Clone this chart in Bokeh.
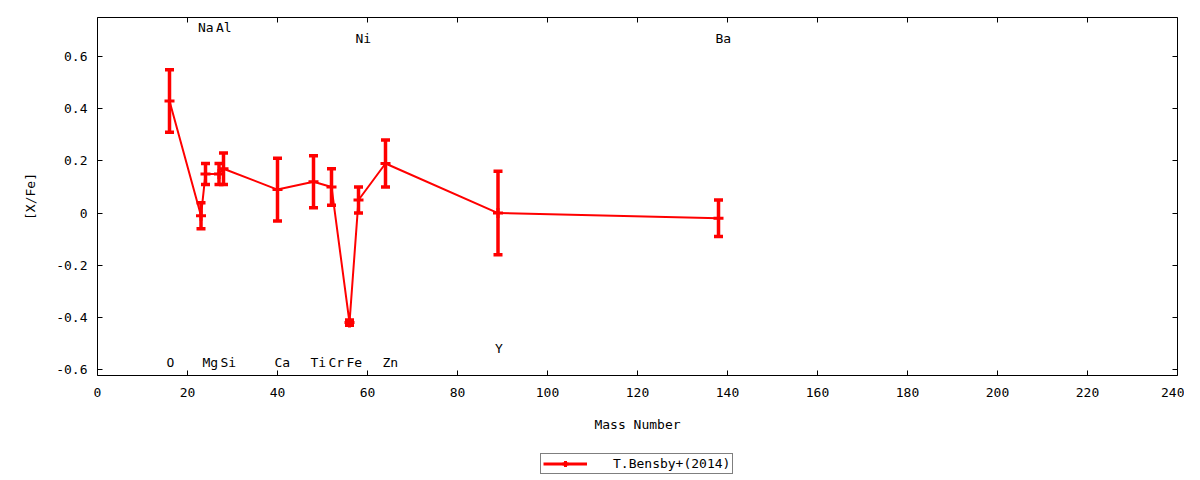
from bokeh.plotting import figure
from bokeh.layouts import column
from bokeh.models import (ColumnDataSource, Whisker, TeeHead, LinearAxis, FixedTicker,
                          Legend, LegendItem, Range1d, CustomJSTickFormatter)
from bokeh.embed import file_html
from bokeh.resources import INLINE
from bokeh.core.properties import value

# ---- data ----
elements = ["O", "Na", "Mg", "Al", "Si", "Ca", "Ti", "Cr", "Fe", "Ni", "Zn", "Y", "Ba"]
mass = [16, 23, 24, 27, 28, 40, 48, 52, 56, 58, 64, 89, 138]
xfe = [0.43, -0.01, 0.15, 0.15, 0.17, 0.09, 0.12, 0.10, -0.42, 0.05, 0.19, 0.00, -0.02]
err = [0.12, 0.05, 0.04, 0.04, 0.06, 0.12, 0.10, 0.07, 0.01, 0.05, 0.09, 0.16, 0.07]
label_y = [-0.575, 0.713, -0.575, 0.713, -0.575, -0.575, -0.575, -0.575, -0.575,
           0.671, -0.575, -0.521, 0.671]
x_ticks = [0, 20, 40, 60, 80, 100, 120, 140, 160, 180, 200, 220, 240]
y_ticks = [-0.6, -0.4, -0.2, 0.0, 0.2, 0.4, 0.6]
y_tick_labels = ["-0.6", "-0.4", "-0.2", "0", "0.2", "0.4", "0.6"]
series_name = "T.Bensby+(2014)"

FONT = "DejaVu Sans Mono"
FS = "13px"
RED = "#ff0000"
W = 1184

src = ColumnDataSource(dict(
    x=mass, y=xfe,
    lo=[v - e for v, e in zip(xfe, err)],
    hi=[v + e for v, e in zip(xfe, err)],
))
lab = ColumnDataSource(dict(x=mass, y=label_y, t=elements))

p = figure(width=W, height=440, output_backend="svg", toolbar_location=None,
           x_range=Range1d(0, 240), y_range=Range1d(-0.623, 0.75),
           min_border_left=97, min_border_right=7, min_border_top=17, min_border_bottom=65)
p.background_fill_color = "white"
p.border_fill_color = "white"
p.outline_line_color = "black"
p.outline_line_width = 1
p.xgrid.visible = False
p.ygrid.visible = False

def style_axis(ax, ticks, show_labels=True):
    ax.ticker = FixedTicker(ticks=ticks)
    ax.major_tick_in = 5
    ax.major_tick_out = 0
    ax.minor_tick_in = 0
    ax.minor_tick_out = 0
    ax.major_tick_line_color = "black"
    ax.axis_line_color = None
    ax.major_label_text_font = FONT
    ax.major_label_text_font_size = FS
    ax.major_label_text_color = "black"
    ax.axis_label_text_font = FONT
    ax.axis_label_text_font_size = FS
    ax.axis_label_text_font_style = "normal"
    ax.axis_label_text_color = "black"
    if not show_labels:
        ax.formatter = CustomJSTickFormatter(code="return ''")
        ax.major_label_standoff = 0

xa = p.xaxis[0]
style_axis(xa, x_ticks)
xa.axis_label = "Mass Number"
xa.major_label_standoff = 12
xa.axis_label_standoff = 17

ya = p.yaxis[0]
style_axis(ya, y_ticks)
ya.major_label_overrides = {t: s for t, s in zip(y_ticks, y_tick_labels)}
ya.axis_label = "[X/Fe]"
ya.major_label_standoff = 10
ya.axis_label_standoff = 15

top = LinearAxis()
style_axis(top, x_ticks, show_labels=False)
p.add_layout(top, "above")
right = LinearAxis()
style_axis(right, y_ticks, show_labels=False)
p.add_layout(right, "right")

line_r = p.line("x", "y", source=src, line_color=RED, line_width=2)
w = Whisker(source=src, base="x", upper="hi", lower="lo", dimension="height",
            line_color=RED, line_width=3.5,
            upper_head=TeeHead(size=9, line_color=RED, line_width=3.5),
            lower_head=TeeHead(size=9, line_color=RED, line_width=3.5))
p.add_layout(w)
pt_r = p.scatter("x", "y", source=src, marker="cross", size=10, line_color=RED,
                 line_width=3)

p.text("x", "y", text="t", source=lab, text_font=value(FONT), text_font_size=FS,
       text_align="left", text_baseline="middle", text_color="black", x_offset=-3)

# ---- legend strip below the plot (its renderers reuse the data, outside its view) ----
lf = figure(width=W, height=36, output_backend="svg", toolbar_location=None,
            x_range=Range1d(0, 1), y_range=Range1d(0, 1),
            min_border_left=0, min_border_right=0, min_border_top=0, min_border_bottom=0)
lf.axis.visible = False
lf.xgrid.visible = False
lf.ygrid.visible = False
lf.outline_line_color = None
lf.background_fill_color = "white"
lf.border_fill_color = "white"
lr1 = lf.line("x", "y", source=src, line_color=RED, line_width=3)
lr2 = lf.scatter("x", "y", source=src, marker="cross", size=10, line_color=RED, line_width=3)

legend = Legend(items=[LegendItem(label=series_name, renderers=[lr1, lr2])],
                location=(443, 2))
legend.label_text_font = FONT
legend.label_text_font_size = FS
legend.label_text_color = "black"
legend.border_line_color = "black"
legend.border_line_width = 1
legend.background_fill_color = "white"
legend.glyph_width = 44
legend.glyph_height = 15
legend.label_height = 15
legend.padding = 2
legend.spacing = 0
legend.label_standoff = 26
legend.margin = 0
lf.add_layout(legend, "center")

layout = column(p, lf, spacing=0)
open("out.html", "w").write(file_html(layout, INLINE))
